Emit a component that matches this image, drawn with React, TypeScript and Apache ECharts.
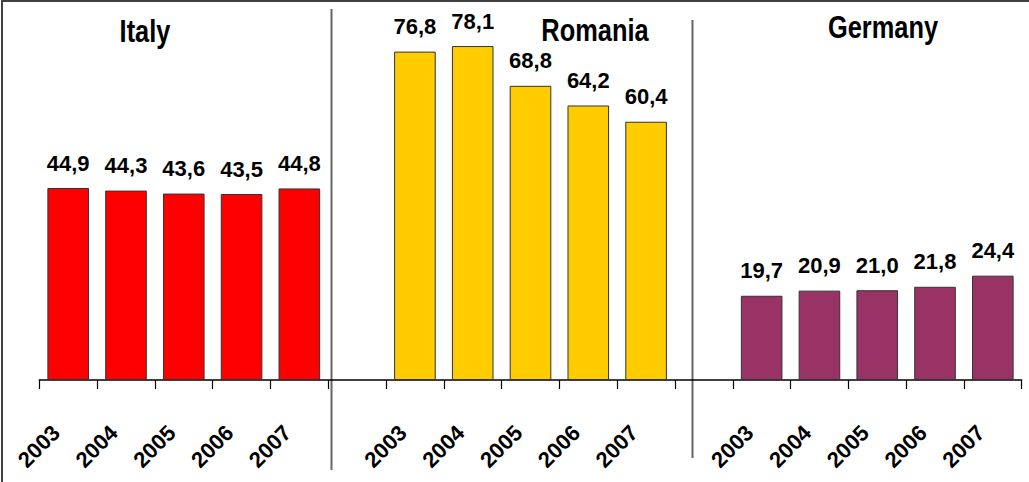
import React, { useEffect, useRef } from "react";
import * as echarts from "echarts";

const years = ["2003", "2004", "2005", "2006", "2007"];
const countries = ["Italy", "Romania", "Germany"];
const italy = [44.9, 44.3, 43.6, 43.5, 44.8];
const romania = [76.8, 78.1, 68.8, 64.2, 60.4];
const germany = [19.7, 20.9, 21.0, 21.8, 24.4];
const colors = ["#FF0000", "#FFCC00", "#993366"];

// categories: 5 years, empty gap, 5 years, empty gap, 5 years
const categories = [...years, "", ...years, "", ...years];

const FONT = '"Liberation Sans", Arial, sans-serif';

function padSeries(values: number[], start: number): (number | null)[] {
  const arr: (number | null)[] = categories.map(() => null);
  values.forEach((v, i) => {
    arr[start + i] = v;
  });
  return arr;
}

function titleText(text: string, x: number, y: number) {
  return {
    type: "text",
    x,
    y,
    scaleX: 0.82,
    silent: true,
    style: {
      text,
      fill: "#000",
      font: `bold 31px ${FONT}`,
      textAlign: "center",
      textVerticalAlign: "middle",
    },
  };
}

export default function App() {
  const ref = useRef<HTMLDivElement>(null);
  useEffect(() => {
    if (!ref.current) return;
    const chart = echarts.init(ref.current, undefined, { renderer: "svg" });
    const seriesData = [
      padSeries(italy, 0),
      padSeries(romania, 6),
      padSeries(germany, 12),
    ];
    chart.setOption({
      animation: false,
      backgroundColor: "#ffffff",
      grid: { left: 39.3, right: 7.3, top: 8, bottom: 102, containLabel: false },
      xAxis: {
        type: "category",
        data: categories,
        boundaryGap: true,
        axisLine: { show: true, lineStyle: { color: "#000", width: 1.5 } },
        axisTick: { show: true, interval: 0, length: 9, lineStyle: { color: "#000", width: 1.2 } },
        axisLabel: {
          interval: 0,
          rotate: 45,
          margin: 37,
          padding: [0, 17, 0, 0],
          color: "#000",
          fontFamily: FONT,
          fontWeight: "bold",
          fontSize: 22,
        },
        splitLine: { show: false },
      },
      yAxis: {
        type: "value",
        min: 0,
        max: 87,
        show: false,
        splitLine: { show: false },
      },
      series: seriesData.map((d, i) => ({
        name: countries[i],
        type: "bar",
        stack: "all",
        data: d,
        barCategoryGap: "28%",
        itemStyle: { color: colors[i], borderColor: "#333", borderWidth: 1 },
        label: {
          show: true,
          position: "top",
          distance: 14,
          color: "#000",
          fontFamily: FONT,
          fontWeight: "bold",
          fontSize: 22,
          formatter: (p: any) =>
            p.value == null ? "" : Number(p.value).toFixed(1).replace(".", ","),
        },
      })),
      graphic: [
        {
          type: "polyline",
          shape: { points: [[2, 482], [2, 1], [1029, 1]] },
          style: { stroke: "#404040", lineWidth: 2, fill: null },
          silent: true,
        },
        {
          type: "line",
          shape: { x1: 331.5, y1: 9, x2: 331.5, y2: 470 },
          style: { stroke: "#666", lineWidth: 2 },
          silent: true,
        },
        {
          type: "line",
          shape: { x1: 692.5, y1: 20, x2: 692.5, y2: 458 },
          style: { stroke: "#666", lineWidth: 2 },
          silent: true,
        },
        titleText(countries[0], 145, 31),
        titleText(countries[1], 595, 30),
        titleText(countries[2], 883, 27),
      ],
    });
    return () => chart.dispose();
  }, []);
  return (
    <div
      ref={ref}
      style={{ position: "fixed", left: 0, top: 0, width: 1029, height: 482 }}
    />
  );
}
